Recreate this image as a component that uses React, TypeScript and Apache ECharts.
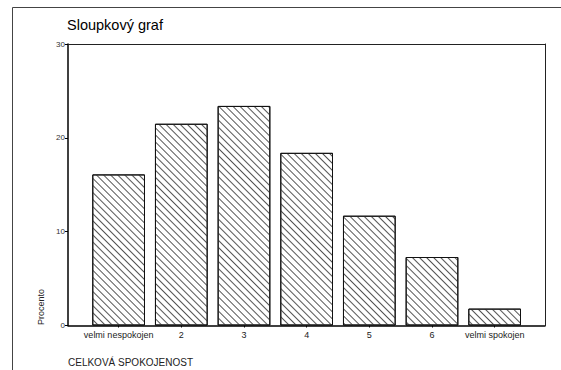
import React, { useEffect, useRef } from "react";
import * as echarts from "echarts";

const categories = ["velmi nespokojen", "2", "3", "4", "5", "6", "velmi spokojen"];
const percentValues = [16.1, 21.5, 23.4, 18.4, 11.7, 7.3, 1.8];
const yMin = 0;
const yMax = 30;
const yInterval = 10;
const titleText = "Sloupkový graf";
const yAxisTitle = "Procento";
const xAxisTitle = "CELKOVÁ SPOKOJENOST";

const FONT = "'Liberation Sans', Arial, Helvetica, sans-serif";

export default function App() {
  const ref = useRef<HTMLDivElement>(null);
  useEffect(() => {
    if (!ref.current) return;
    const chart = echarts.init(ref.current, null, { renderer: "svg" });
    const outerGrid = { left: 68, top: 44, right: 16, bottom: 44.5 };
    const innerGrid = { left: 87.3, top: 44, right: 35, bottom: 44.5 };
    const hiddenValueX = {
      type: "value",
      min: 0,
      max: 1,
      axisLabel: { show: false },
      axisTick: { show: false },
      splitLine: { show: false },
    };
    chart.setOption({
      animation: false,
      backgroundColor: "#fff",
      title: {
        text: titleText,
        left: 67,
        top: 17,
        padding: 0,
        textStyle: { fontFamily: FONT, fontSize: 14.5, fontWeight: "normal", color: "#000" },
      },
      grid: [
        { ...outerGrid, containLabel: false },
        { ...innerGrid, containLabel: false },
      ],
      xAxis: [
        {
          ...hiddenValueX,
          gridIndex: 0,
          position: "bottom",
          axisLine: { show: true, onZero: false, lineStyle: { color: "#000", width: 1.5 } },
        },
        {
          ...hiddenValueX,
          gridIndex: 0,
          position: "top",
          axisLine: { show: true, onZero: false, lineStyle: { color: "#222", width: 1 } },
        },
        {
          type: "category",
          gridIndex: 1,
          data: categories,
          position: "bottom",
          axisLine: { show: false, onZero: false },
          axisTick: { show: true, alignWithLabel: true, length: 2, lineStyle: { color: "#000", width: 1 } },
          axisLabel: { fontFamily: FONT, fontSize: 9, color: "#222", margin: 5, interval: 0 },
          splitLine: { show: false },
        },
      ],
      yAxis: [
        {
          type: "value",
          gridIndex: 0,
          position: "left",
          min: yMin,
          max: yMax,
          interval: yInterval,
          axisLine: { show: true, onZero: false, lineStyle: { color: "#000", width: 1.5 } },
          axisTick: { show: true, length: 3, lineStyle: { color: "#000", width: 1 } },
          axisLabel: { fontFamily: FONT, fontSize: 8, color: "#333", margin: 3 },
          splitLine: { show: false },
        },
        {
          type: "value",
          gridIndex: 0,
          position: "right",
          min: yMin,
          max: yMax,
          interval: yInterval,
          axisLine: { show: true, onZero: false, lineStyle: { color: "#222", width: 1 } },
          axisTick: { show: false },
          axisLabel: { show: false },
          splitLine: { show: false },
        },
        {
          type: "value",
          gridIndex: 1,
          min: yMin,
          max: yMax,
          interval: yInterval,
          show: false,
          splitLine: { show: false },
        },
      ],
      series: [
        {
          type: "bar",
          xAxisIndex: 2,
          yAxisIndex: 2,
          data: percentValues,
          barWidth: 52.7,
          itemStyle: {
            color: "#fff",
            borderColor: "#111",
            borderWidth: 1,
            decal: {
              symbol: "rect",
              symbolSize: 1,
              dashArrayX: [1, 0],
              dashArrayY: [1, 3.2],
              rotation: Math.PI / 4,
              color: "#555",
              backgroundColor: "#fff",
            },
          },
          emphasis: { disabled: true },
        },
      ],
      graphic: [
        {
          type: "rect",
          shape: { x: 12.5, y: 7.5, width: 600, height: 400 },
          style: { fill: "none", stroke: "#444", lineWidth: 1 },
          silent: true,
        },
        {
          type: "text",
          x: 41,
          y: 325,
          rotation: Math.PI / 2,
          style: {
            text: yAxisTitle,
            fontFamily: FONT,
            fontSize: 9,
            fill: "#222",
            textAlign: "left",
            textVerticalAlign: "middle",
          },
        },
        {
          type: "text",
          x: 68,
          y: 362,
          style: {
            text: xAxisTitle,
            fontFamily: FONT,
            fontSize: 10,
            fill: "#222",
            textAlign: "left",
            textVerticalAlign: "middle",
          },
        },
      ],
    });
    return () => chart.dispose();
  }, []);
  return <div ref={ref} style={{ width: 561, height: 370, position: "absolute", left: 0, top: 0 }} />;
}
